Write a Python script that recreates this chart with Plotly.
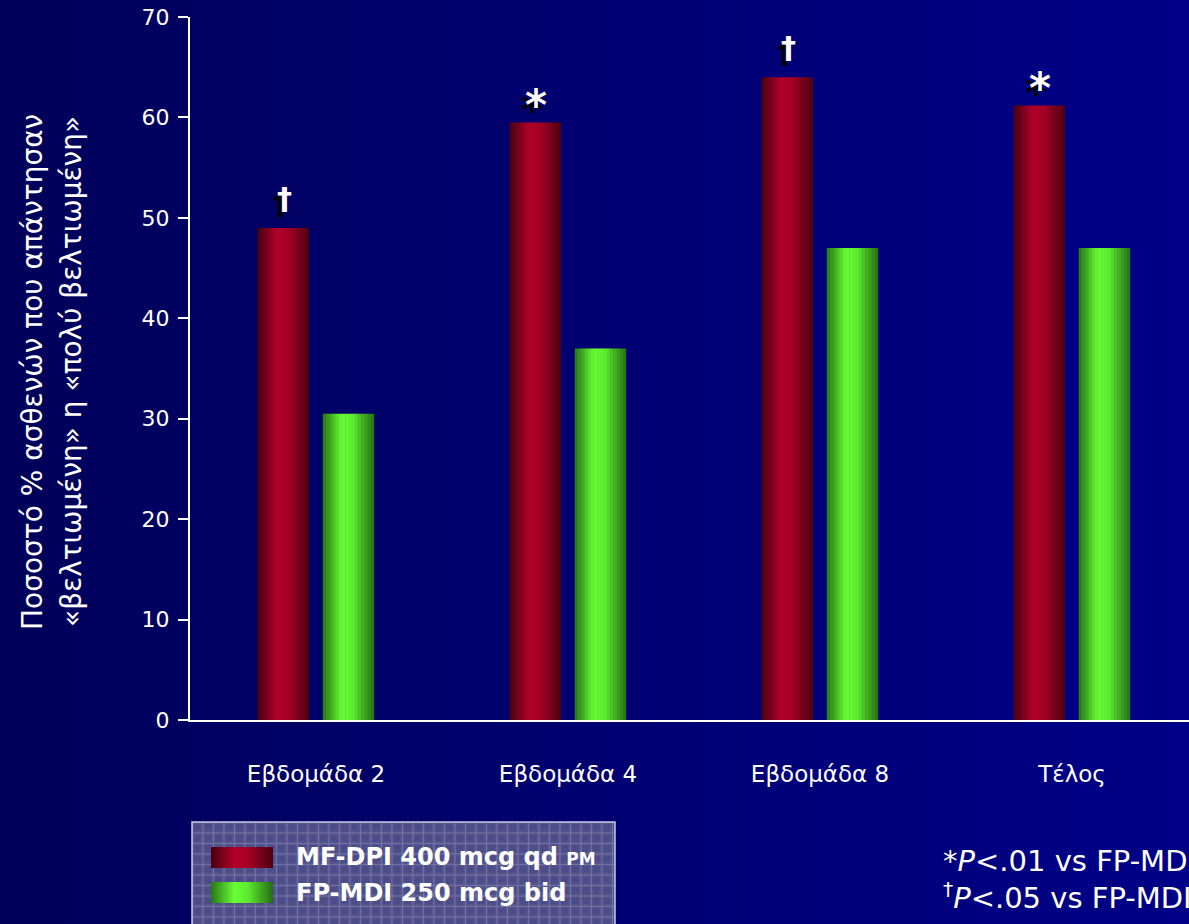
import base64
import plotly.graph_objects as go

# ---- data -------------------------------------------------------------
categories = ["Εβδομάδα 2", "Εβδομάδα 4", "Εβδομάδα 8", "Τέλος"]
mf_dpi = [49.0, 59.5, 64.0, 61.2]
fp_mdi = [30.5, 37.0, 47.0, 47.0]
significance = ["†", "*", "†", "*"]
y_ticks = [0, 10, 20, 30, 40, 50, 60, 70]

series_names = ["MF-DPI 400 mcg qd <span style='font-size:17px'>PM</span>",
                "FP-MDI 250 mcg bid"]

# ---- geometry / styling ----------------------------------------------
W, H = 1189, 924
ML, MR, MT, MB = 190, 0, 17, 204
PW, PH = W - ML - MR, H - MT - MB
BAR_W = 0.204
OFFSETS = [-0.232, 0.027]
N_STRIPS = 16

RED_STOPS = [(0.0, (70, 0, 16)), (0.38, (178, 0, 40)), (0.58, (168, 0, 38)), (1.0, (78, 0, 18))]
GREEN_STOPS = [(0.0, (40, 118, 22)), (0.38, (104, 255, 52)), (0.6, (92, 232, 46)), (1.0, (38, 108, 22))]


def lerp_color(stops, t):
    for (t0, c0), (t1, c1) in zip(stops[:-1], stops[1:]):
        if t0 <= t <= t1:
            f = (t - t0) / (t1 - t0)
            return tuple(round(a + (b - a) * f) for a, b in zip(c0, c1))
    return stops[-1][1]


def rgb(c):
    return f"rgb({c[0]},{c[1]},{c[2]})"


fig = go.Figure()

# cylinder-like shading: each bar is built from narrow vertical strips
x_pos = list(range(len(categories)))
for values, off, stops, name in [(mf_dpi, OFFSETS[0], RED_STOPS, series_names[0]),
                                  (fp_mdi, OFFSETS[1], GREEN_STOPS, series_names[1])]:
    sw = BAR_W / N_STRIPS
    for i in range(N_STRIPS):
        t = (i + 0.5) / N_STRIPS
        fig.add_trace(go.Bar(
            x=x_pos, y=values,
            offset=off + i * sw, width=sw * 1.15 if i < N_STRIPS - 1 else sw,
            marker=dict(color=rgb(lerp_color(stops, t)), line=dict(width=0)),
            name=name, showlegend=False, hoverinfo="skip"))

# significance markers above the MF-DPI bars (with a dark drop shadow)
for xi, v, s in zip(x_pos, mf_dpi, significance):
    xc = xi + OFFSETS[0] + BAR_W / 2
    size = 42 if s == "*" else 30
    ysh = -10 if s == "*" else 10
    for col, dx, dy in [("black", -4, -5), ("white", 0, 0)]:
        fig.add_annotation(x=xc, y=v, xref="x", yref="y", text=f"<b>{s}</b>",
                           showarrow=False, yanchor="bottom", xanchor="center",
                           xshift=dx + 1, yshift=ysh + dy,
                           font=dict(family="DejaVu Sans", size=size, color=col))

# ---- background: horizontal navy gradient + patterned legend panel ----
def swatch(stops, gid):
    s = "".join(f"<stop offset='{t}' stop-color='{rgb(c)}'/>" for t, c in stops)
    return f"<linearGradient id='{gid}' x1='0' x2='1' y1='0' y2='0'>{s}</linearGradient>"

svg = f"""<svg xmlns='http://www.w3.org/2000/svg' width='{W}' height='{H}' viewBox='0 0 {W} {H}'>
<defs>
<linearGradient id='bg' x1='0' x2='1' y1='0' y2='0'>
<stop offset='0' stop-color='#00005a'/><stop offset='1' stop-color='#000088'/></linearGradient>
<pattern id='grid' x='192' y='822' width='10.5' height='10.5' patternUnits='userSpaceOnUse'>
<rect width='10.5' height='10.5' fill='#56568f'/>
<rect x='2' y='2' width='7' height='7' fill='#4c4c88'/>
<path d='M0 0 H10.5 M0 0 V10.5' stroke='#8a8ab8' stroke-width='1'/>
</pattern>
{swatch(RED_STOPS, 'sr')}{swatch(GREEN_STOPS, 'sg')}
</defs>
<rect width='{W}' height='{H}' fill='url(#bg)'/>
<rect x='192' y='822' width='423' height='120' fill='url(#grid)' stroke='#c8c8e0' stroke-width='1.5'/>
<rect x='211' y='847' width='62' height='21' fill='url(#sr)'/>
<rect x='211' y='882' width='62' height='21' fill='url(#sg)'/>
</svg>"""
src = "data:image/svg+xml;base64," + base64.b64encode(svg.encode("utf-8")).decode()

fig.add_layout_image(source=src, xref="paper", yref="paper",
                     x=-ML / PW, y=1 + MT / PH, sizex=W / PW, sizey=H / PH,
                     xanchor="left", yanchor="top", sizing="stretch", layer="below")

# legend text
for name, ypx in zip(series_names, [857, 893]):
    fig.add_annotation(xref="paper", yref="paper", x=(294 - ML) / PW, y=-(ypx - MT - PH) / PH,
                       text=f"<b>{name}</b>", showarrow=False, xanchor="left", yanchor="middle",
                       font=dict(family="DejaVu Sans", size=24, color="white"))

# footnotes
for txt, ypx in [("*<i>P</i>&lt;.01 vs FP-MDI", 861), ("<sup>†</sup><i>P</i>&lt;.05 vs FP-MDI", 896)]:
    fig.add_annotation(xref="paper", yref="paper", x=(941 - ML) / PW, y=-(ypx - MT - PH) / PH,
                       text=txt, showarrow=False, xanchor="left", yanchor="middle",
                       font=dict(family="DejaVu Sans", size=29, color="white"))

# y-axis title (two lines, rotated)
for txt, xpx in [("Ποσοστό % ασθενών που απάντησαν", 33), ("«βελτιωμένη» η «πολύ βελτιωμένη»", 72)]:
    fig.add_annotation(xref="paper", yref="paper", x=-(ML - xpx) / PW, y=-(372 - MT - PH) / PH,
                       text=txt, textangle=-90, showarrow=False, xanchor="center", yanchor="middle",
                       font=dict(family="DejaVu Sans", size=28, color="white"))

fig.update_layout(
    width=W, height=H,
    margin=dict(l=ML, r=MR, t=MT, b=MB, pad=0),
    paper_bgcolor="#000066", plot_bgcolor="rgba(0,0,0,0)",
    barmode="overlay", showlegend=False,
    font=dict(family="DejaVu Sans", color="white"),
)
fig.update_xaxes(range=[-0.5, -0.5 + PW / 252.0], tickmode="array", tickvals=x_pos, ticktext=categories,
                 showgrid=False, zeroline=False, showline=True, linecolor="white", linewidth=2,
                 ticks="", ticklabelstandoff=32, tickfont=dict(size=23, color="white"))
fig.update_yaxes(range=[0, 70], tickmode="array", tickvals=y_ticks, showgrid=False, zeroline=False,
                 showline=True, linecolor="white", linewidth=2, ticks="outside", ticklen=10,
                 tickwidth=2, tickcolor="white", ticklabelstandoff=4, tickfont=dict(size=22, color="white"))

fig.write_html("out.html")
